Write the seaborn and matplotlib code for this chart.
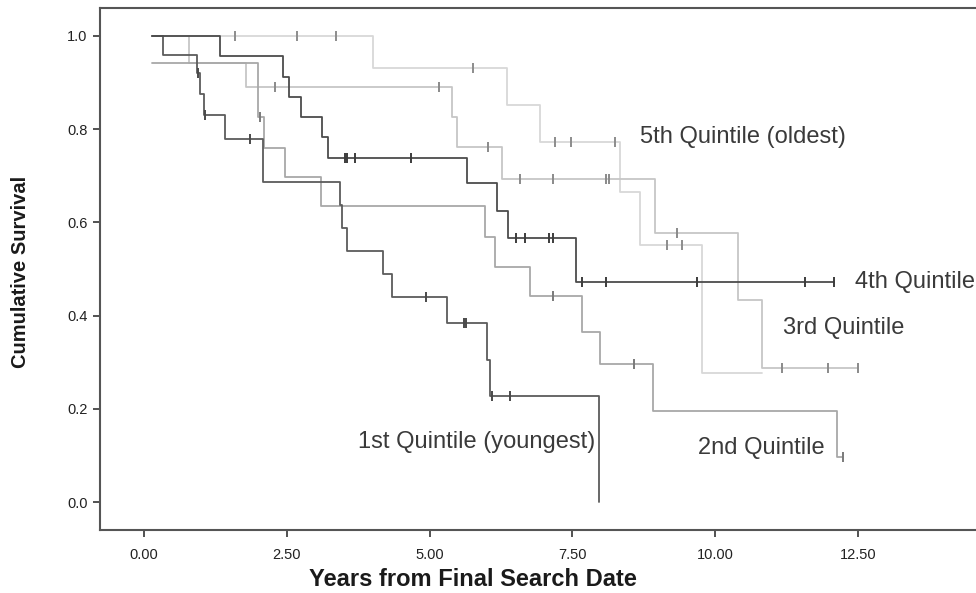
import numpy as np
import pandas as pd
import matplotlib
matplotlib.use("Agg")
import matplotlib.pyplot as plt
import seaborn as sns

# Kaplan-Meier step curves: event times and survival after each step, per age quintile
q1_times = [0.14, 0.33, 0.93, 0.98, 1.05, 1.42, 2.08, 3.43, 3.47, 3.55, 4.19, 4.34, 5.31, 6.00, 6.06, 7.97]
q1_surv = [1.0, 0.96, 0.92, 0.875, 0.83, 0.78, 0.687, 0.637, 0.588, 0.539, 0.49, 0.44, 0.384, 0.305, 0.228, 0.0]
q1_censor = [0.95, 1.07, 1.86, 4.94, 5.60, 5.64, 6.09, 6.41]

q2_times = [0.14, 1.99, 2.10, 2.47, 3.10, 5.97, 6.15, 6.76, 7.67, 7.99, 8.92, 12.14, 12.24]
q2_surv = [0.943, 0.826, 0.76, 0.697, 0.635, 0.569, 0.504, 0.442, 0.365, 0.296, 0.195, 0.097, 0.097]
q2_censor = [2.03, 7.16, 8.58, 12.24]

q3_times = [0.14, 0.79, 1.79, 5.40, 5.49, 6.27, 8.95, 10.40, 10.82, 12.50]
q3_surv = [1.0, 0.943, 0.891, 0.826, 0.762, 0.693, 0.577, 0.433, 0.288, 0.288]
q3_censor = [2.29, 5.17, 6.02, 6.58, 7.16, 8.09, 8.14, 9.33, 11.17, 11.98, 12.50]

q4_times = [0.14, 1.33, 2.43, 2.54, 2.75, 3.12, 3.22, 5.65, 6.18, 6.37, 7.57, 12.08]
q4_surv = [1.0, 0.957, 0.913, 0.870, 0.826, 0.783, 0.739, 0.685, 0.625, 0.567, 0.472, 0.472]
q4_censor = [3.52, 3.56, 3.70, 4.68, 6.52, 6.67, 7.10, 7.16, 7.67, 8.09, 9.68, 11.58, 12.08]

q5_times = [0.14, 4.01, 6.36, 6.93, 8.34, 8.69, 9.77, 10.82]
q5_surv = [1.0, 0.931, 0.852, 0.773, 0.665, 0.552, 0.277, 0.277]
q5_censor = [1.59, 2.68, 3.36, 5.76, 7.20, 7.47, 8.25, 9.16, 9.42]

groups = ["1st Quintile (youngest)", "2nd Quintile", "3rd Quintile", "4th Quintile", "5th Quintile (oldest)"]
x_ticks = [0.0, 2.5, 5.0, 7.5, 10.0, 12.5]
x_ticklabels = ["0.00", "2.50", "5.00", "7.50", "10.00", "12.50"]
y_ticks = [0.0, 0.2, 0.4, 0.6, 0.8, 1.0]
y_ticklabels = ["0.0", "0.2", "0.4", "0.6", "0.8", "1.0"]

series = {
    groups[0]: (q1_times, q1_surv, q1_censor),
    groups[1]: (q2_times, q2_surv, q2_censor),
    groups[2]: (q3_times, q3_surv, q3_censor),
    groups[3]: (q4_times, q4_surv, q4_censor),
    groups[4]: (q5_times, q5_surv, q5_censor),
}

line_colors = {
    groups[0]: "#5c5c5c",
    groups[1]: "#a8a8a8",
    groups[2]: "#c6c6c6",
    groups[3]: "#4c4c4c",
    groups[4]: "#d8d8d8",
}
tick_colors = {
    groups[0]: "#4a4a4a",
    groups[1]: "#7a7a7a",
    groups[2]: "#8a8a8a",
    groups[3]: "#3c3c3c",
    groups[4]: "#8c8c8c",
}


def step_value(times, surv, t):
    idx = np.searchsorted(np.asarray(times), t, side="right") - 1
    return surv[max(idx, 0)]


curve_rows = []
censor_rows = []
for g, (times, surv, cens) in series.items():
    for t, s in zip(times, surv):
        curve_rows.append({"time": t, "survival": s, "group": g})
    for t in cens:
        censor_rows.append({"time": t, "survival": step_value(times, surv, t), "group": g})
curves = pd.DataFrame(curve_rows)
censored = pd.DataFrame(censor_rows)

sns.set_style("white")
plt.rcParams["font.family"] = ["Liberation Sans", "DejaVu Sans"]

fig = plt.figure(figsize=(9.76, 5.93), dpi=100)
ax = fig.add_axes([100 / 976, 1 - 530 / 593, 880 / 976, 522 / 593])

# light curves first so the darker ones sit on top
draw_order = [groups[4], groups[2], groups[1], groups[0], groups[3]]
for g in draw_order:
    sub = curves[curves["group"] == g]
    sns.lineplot(data=sub, x="time", y="survival", color=line_colors[g],
                 drawstyle="steps-post", estimator=None, sort=False,
                 linewidth=1.3, ax=ax, legend=False)
for g in draw_order:
    sub = censored[censored["group"] == g]
    sns.scatterplot(data=sub, x="time", y="survival", color=tick_colors[g],
                    marker="|", s=55, linewidth=1.4, ax=ax, legend=False, zorder=4)

ax.set_xlim(-0.77, 14.64)
ax.set_ylim(-0.06, 1.06)
ax.set_xticks(x_ticks)
ax.set_xticklabels(x_ticklabels)
ax.set_yticks(y_ticks)
ax.set_yticklabels(y_ticklabels)
ax.tick_params(axis="both", direction="out", length=5, width=1.2, color="#333333",
               labelsize=10.5, labelcolor="#222222", left=True, bottom=True, pad=4)
ax.tick_params(axis="x", pad=8)

for side, sp in ax.spines.items():
    sp.set_color("#555555")
    sp.set_linewidth(1.5)
ax.spines["right"].set_visible(False)

ax.set_xlabel("Years from Final Search Date", fontsize=17, fontweight="bold", color="#1a1a1a")
ax.xaxis.set_label_coords((473 - 100) / 880, -(580 - 530) / 522)
ax.xaxis.label.set_va("center")
ax.set_ylabel("Cumulative Survival", fontsize=14.5, fontweight="bold", color="#1a1a1a")
ax.yaxis.set_label_coords(-(100 - 21) / 880, (530 - 272) / 522)
ax.yaxis.label.set_va("center")

label_pos = {
    groups[4]: (8.69, 0.784),
    groups[3]: (12.45, 0.472),
    groups[2]: (11.19, 0.373),
    groups[1]: (9.70, 0.116),
    groups[0]: (3.75, 0.129),
}
for g, (x, y) in label_pos.items():
    ax.text(x, y, g, fontsize=17, color="#3a3a3a", ha="left", va="center")

fig.savefig("out.png", dpi=100)
